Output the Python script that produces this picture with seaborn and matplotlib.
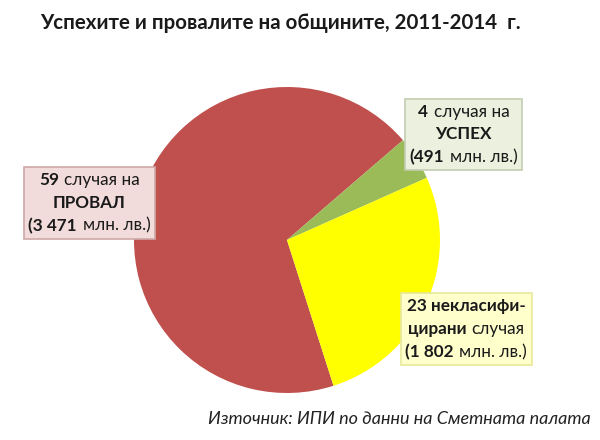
import matplotlib
matplotlib.use("Agg")
import matplotlib.pyplot as plt
import seaborn as sns
from matplotlib.offsetbox import TextArea, HPacker, VPacker, AnnotationBbox

# Data: number of cases per outcome
categories = ["ПРОВАЛ", "УСПЕХ", "некласифицирани"]
cases = [59, 4, 23]
amounts = ["3 471", "491", "1 802"]

sns.set_theme(style="white")
plt.rcParams["font.family"] = ["Lato", "DejaVu Sans"]

colors = ["#C0504D", "#9BBB59", "#FFFF00"]

fig = plt.figure(figsize=(6, 4.4), dpi=100)
fig.patch.set_facecolor("white")

# pie axes, centred near (287, 240) px with radius ~153 px
ax = fig.add_axes([0.2233, 0.1068, 0.51, 0.6955])
ax.pie(cases, colors=colors, startangle=-72.3, counterclock=False,
       wedgeprops=dict(linewidth=0))
ax.set_xlim(-1.0, 1.0)
ax.set_ylim(-1.0, 1.0)
ax.set_aspect("equal")
ax.axis("off")

fig.text(0.067, 0.948, "Успехите и провалите на общините, 2011-2014  г.",
         fontsize=14.8, fontweight="bold", color="#1a1a1a", va="center")
fig.text(0.985, 0.048, "Източник: ИПИ по данни на Сметната палата",
         fontsize=13, style="italic", color="#222222", ha="right", va="center")


def line(parts):
    # parts: list of (text, bold)
    areas = [TextArea(t, textprops=dict(fontsize=12.3, color="#1a1a1a",
                                        fontweight="bold" if b else "normal"))
             for t, b in parts]
    return HPacker(children=areas, align="baseline", pad=0, sep=4)


def label_box(lines, xy, face, edge):
    box = VPacker(children=[line(l) for l in lines], align="center", pad=0, sep=5)
    ab = AnnotationBbox(box, xy, xycoords="figure fraction", frameon=True,
                        pad=0.45, box_alignment=(0.5, 0.5),
                        bboxprops=dict(boxstyle="square", facecolor=face,
                                       edgecolor=edge, linewidth=1.2))
    fig.add_artist(ab)


label_box([[(str(cases[0]), True), ("случая на", False)],
           [(categories[0], True)],
           [("(" + amounts[0], True), ("млн. лв.)", False)]],
          (0.149, 0.539), "#F2DCDB", "#CFA9A8")

label_box([[(str(cases[1]), True), ("случая на", False)],
           [(categories[1], True)],
           [("(" + amounts[1], True), ("млн. лв.)", False)]],
          (0.773, 0.694), "#EBF1DE", "#C4CDB2")

label_box([[(str(cases[2]) + " некласифи-", True)],
           [("цирани", True), ("случая", False)],
           [("(" + amounts[2], True), ("млн. лв.)", False)]],
          (0.777, 0.252), "#FFFFCC", "#E8E89A")

fig.savefig("out.png", dpi=100)
